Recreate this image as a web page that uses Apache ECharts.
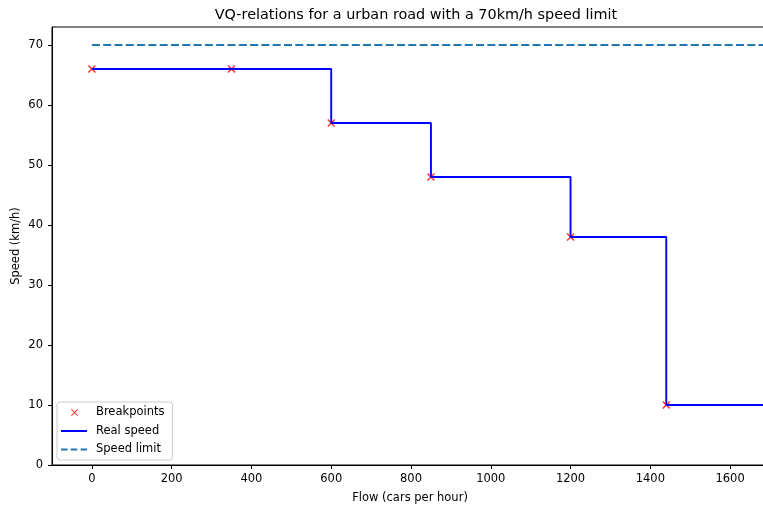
<!DOCTYPE html>
<html>
<head>
<meta charset="utf-8">
<title>VQ-relations</title>
<script src="https://cdn.jsdelivr.net/npm/echarts@6/dist/echarts.min.js"></script>
<style>
  html, body { margin: 0; padding: 0; background: #fff; }
  #main { width: 763px; height: 505px; }
</style>
</head>
<body>
<div id="main"></div>
<script>
// breakpoints
var breakFlow = [0, 350, 600, 850, 1200, 1440];
var breakSpeed = [66, 66, 57, 48, 38, 10];
// the step line runs on past the right edge of the plot
var realFlow = [0, 350, 600, 850, 1200, 1440, 1700];
var realSpeed = [66, 66, 57, 48, 38, 10, 10];
var limitFlow = [0, 1700];
var limitSpeed = [70, 70];
var xTicks = [0, 200, 400, 600, 800, 1000, 1200, 1400, 1600];
var yTicks = [0, 10, 20, 30, 40, 50, 60, 70];

function pairs(xs, ys) {
  var out = [];
  for (var i = 0; i < xs.length; i++) out.push([xs[i], ys[i]]);
  return out;
}

var font = 'DejaVu Sans';
var xMark = 'path://M0,1.3L1.3,0L5,3.7L8.7,0L10,1.3L6.3,5L10,8.7L8.7,10L5,6.3L1.3,10L0,8.7L3.7,5Z';
// legend icons, tiny corner specks keep the 30x13 box so nothing gets stretched
var box = 'M0,0L0.01,0L0,0.01Z M30,13L29.99,13L30,12.99Z ';
var iconX = 'path://' + box + 'M10,3.7L10.7,3L13.5,5.8L16.3,3L17,3.7L14.2,6.5L17,9.3L16.3,10L13.5,7.2L10.7,10L10,9.3L12.8,6.5Z';
var iconLine = 'path://' + box + 'M0,5.6L26,5.6L26,7.4L0,7.4Z';
var iconDash = 'path://' + box + 'M0,5.6L6.5,5.6L6.5,7.4L0,7.4Z M9.8,5.6L16.3,5.6L16.3,7.4L9.8,7.4Z M19.6,5.6L26,5.6L26,7.4L19.6,7.4Z';

var chart = echarts.init(document.getElementById('main'));
chart.setOption({
  animation: false,
  backgroundColor: '#fff',
  textStyle: { fontFamily: font },
  title: {
    text: 'VQ-relations for a urban road with a 70km/h speed limit',
    left: 411,
    textAlign: 'center',
    top: 3,
    textStyle: { fontFamily: font, fontSize: 14.4, fontWeight: 'normal', color: '#000' }
  },
  grid: {
    left: 52, top: 27, right: -5, bottom: 40,
    containLabel: false,
    outerBoundsMode: 'none',
    show: true, borderColor: '#000', borderWidth: 1, backgroundColor: 'transparent'
  },
  legend: {
    orient: 'vertical',
    left: 57,
    top: 402,
    padding: [4, 8, 4, 4],
    itemGap: 5.5,
    itemWidth: 30,
    itemHeight: 13,
    backgroundColor: 'rgba(255,255,255,0.8)',
    borderColor: '#cccccc',
    borderWidth: 1,
    borderRadius: 3,
    textStyle: { fontFamily: font, fontSize: 11.5, color: '#000' },
    data: [
      { name: 'Breakpoints', icon: iconX },
      { name: 'Real speed', icon: iconLine },
      { name: 'Speed limit', icon: iconDash }
    ]
  },
  xAxis: {
    type: 'value',
    min: -100,
    max: 1695,
    name: 'Flow (cars per hour)',
    nameLocation: 'middle',
    nameGap: 27,
    nameMoveOverlap: false,
    nameTextStyle: { fontFamily: font, fontSize: 11.5, color: '#000' },
    axisLine: { show: true, onZero: false, lineStyle: { color: '#000', width: 1 } },
    axisTick: { show: true, inside: false, length: 4, lineStyle: { color: '#000' }, customValues: xTicks },
    axisLabel: {
      fontFamily: font, fontSize: 11.5, color: '#000', margin: 8, customValues: xTicks,
      formatter: function (v) { return String(v); }
    },
    splitLine: { show: false }
  },
  yAxis: {
    type: 'value',
    min: 0,
    max: 73,
    name: 'Speed (km/h)',
    nameLocation: 'middle',
    nameGap: 30,
    nameMoveOverlap: false,
    nameTextStyle: { fontFamily: font, fontSize: 11.5, color: '#000' },
    axisLine: { show: true, onZero: false, lineStyle: { color: '#000', width: 1 } },
    axisTick: { show: true, inside: false, length: 4, lineStyle: { color: '#000' }, customValues: yTicks },
    axisLabel: {
      fontFamily: font, fontSize: 11.5, color: '#000', margin: 9, customValues: yTicks,
      formatter: function (v) { return String(v); }
    },
    splitLine: { show: false }
  },
  series: [
    {
      name: 'Breakpoints',
      type: 'scatter',
      symbol: xMark,
      symbolSize: 8,
      itemStyle: { color: '#ff0000' },
      data: pairs(breakFlow, breakSpeed),
      z: 2
    },
    {
      name: 'Real speed',
      type: 'line',
      step: 'end',
      showSymbol: false,
      symbol: 'none',
      lineStyle: { color: '#0000ff', width: 1.9 },
      itemStyle: { color: '#0000ff' },
      data: pairs(realFlow, realSpeed),
      z: 3
    },
    {
      name: 'Speed limit',
      type: 'line',
      showSymbol: false,
      symbol: 'none',
      lineStyle: { color: '#1f77b4', width: 1.9, type: [8, 3.3] },
      itemStyle: { color: '#1f77b4' },
      data: pairs(limitFlow, limitSpeed),
      z: 3
    }
  ]
});
</script>
</body>
</html>
